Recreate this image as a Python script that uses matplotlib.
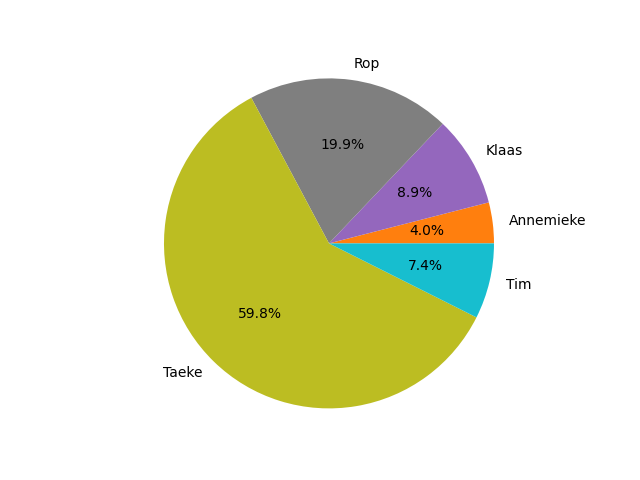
import matplotlib
matplotlib.use("Agg")
import matplotlib.pyplot as plt

# share per person
names = ['Annemieke', 'Klaas', 'Rop', 'Taeke', 'Tim']
shares = [4.0, 8.9, 19.9, 59.8, 7.4]
colours = ['tab:orange', 'tab:purple', 'tab:gray', 'tab:olive', 'tab:cyan']

fig, ax = plt.subplots(figsize=(6.4, 4.8), dpi=100)
ax.pie(shares, labels=names, colors=colours, autopct='%1.1f%%')
ax.set_xlim(-1.126, 1.114)
ax.set_ylim(-1.114, 1.126)
fig.savefig('out.png')
